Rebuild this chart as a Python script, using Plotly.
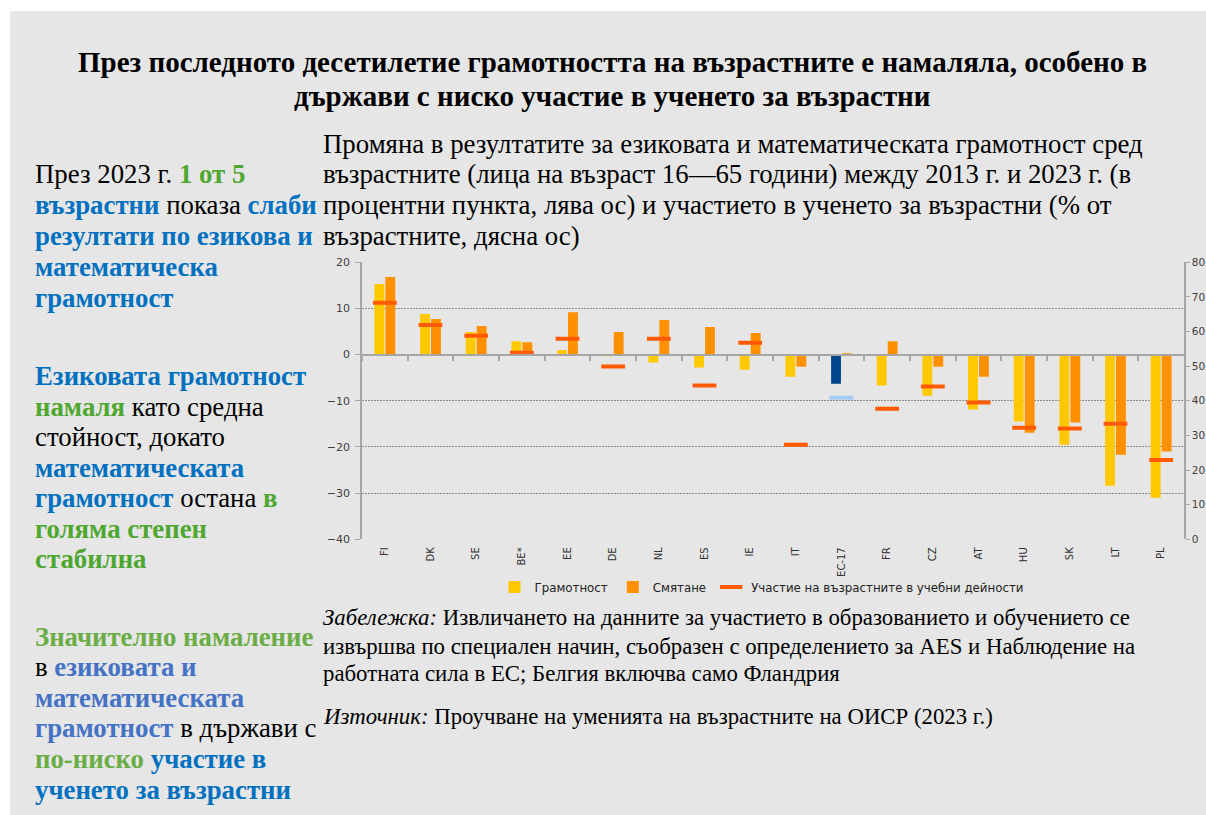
import plotly.graph_objects as go

W, H = 1206, 815

countries = ["FI", "DK", "SE", "BE*", "EE", "DE", "NL", "ES", "IE", "IT", "EC-17",
             "FR", "CZ", "AT", "HU", "SK", "LT", "PL"]
literacy = [15.3, 8.8, 4.9, 2.9, 1.0, -0.3, -1.7, -2.8, -3.3, -4.8, -6.3,
            -6.7, -8.9, -11.9, -14.5, -19.5, -28.4, -31.0]
numeracy = [16.8, 7.7, 6.2, 2.7, 9.2, 4.9, 7.5, 6.0, 4.7, -2.6, 0.1,
            2.9, -2.6, -4.8, -16.9, -14.7, -21.7, -21.0]
participation = [68.3, 61.9, 58.8, 53.9, 57.9, 49.9, 57.9, 44.4, 56.8, 27.3, 40.9,
                 37.7, 44.1, 39.5, 32.2, 32.0, 33.4, 22.9]

left_ticks = [20, 10, 0, -10, -20, -30, -40]
right_ticks = [0, 10, 20, 30, 40, 50, 60, 70, 80]

BG = "#e6e6e6"
YEL = "#ffc800"
ORA = "#ff9100"
RED = "#ff5a00"
DBLUE = "#00468c"
LBLUE = "#a6cdf5"

lit_colors = [DBLUE if c == "EC-17" else YEL for c in countries]
par_colors = [LBLUE if c == "EC-17" else RED for c in countries]


def px(x):
    return x / W


def py(y):
    return 1 - y / H


fig = go.Figure()
fig.add_trace(go.Bar(x=countries, y=literacy, name="Грамотност",
                     marker=dict(color=lit_colors, line=dict(width=0)),
                     xaxis="x", yaxis="y"))
fig.add_trace(go.Bar(x=countries, y=numeracy, name="Смятане",
                     marker=dict(color=ORA, line=dict(width=0)),
                     xaxis="x", yaxis="y"))
fig.add_trace(go.Scatter(x=countries, y=participation, mode="markers",
                         name="Участие на възрастните в учебни дейности",
                         marker=dict(symbol="line-ew", size=17,
                                     line=dict(width=4, color=par_colors)),
                         xaxis="x", yaxis="y2"))
# invisible trace to drive the zero-line category axis
fig.add_trace(go.Scatter(x=countries, y=[0] * len(countries), mode="markers",
                         marker=dict(opacity=0), showlegend=False,
                         hoverinfo="skip", xaxis="x2", yaxis="y"))

x0, x1 = px(362), px(1184)
y0, y1 = py(539.3), py(262.3)
zero_pos = py(354.6)

GRID = "#8c8c8c"
AX = "#a6a6a6"
TICKF = dict(family="DejaVu Sans", size=11, color="#404040")
RTICKF = dict(family="DejaVu Sans", size=10.5, color="#404040")
XTICKF = dict(family="DejaVu Sans", size=10, color="#303030")

fig.update_layout(
    template="none",
    width=W, height=H, autosize=False,
    margin=dict(l=0, r=0, t=0, b=0, pad=0, autoexpand=False),
    paper_bgcolor="white", plot_bgcolor=BG,
    barmode="group", bargap=0.52, bargroupgap=0.1,
    showlegend=True,
    legend=dict(orientation="h", x=px(762), y=py(587), xanchor="center",
                yanchor="middle", bgcolor="rgba(0,0,0,0)",
                font=dict(family="DejaVu Sans", size=11.8, color="#222"),
                itemwidth=30, tracegroupgap=0),
    xaxis=dict(domain=[x0, x1], anchor="y", type="category",
               categoryorder="array", categoryarray=countries,
               range=[-0.5, len(countries) - 0.5], automargin=False,
               tickangle=-90, tickfont=XTICKF, showline=False, showgrid=False,
               zeroline=False, ticks="", ticklen=0, ticklabelstandoff=5),
    xaxis2=dict(domain=[x0, x1], overlaying="x", anchor="free", position=zero_pos,
                type="category", categoryorder="array", categoryarray=countries,
                range=[-0.5, len(countries) - 0.5], automargin=False,
                showticklabels=False, showline=True, linecolor=AX, linewidth=2,
                ticks="outside", tickson="boundaries", ticklen=5, tickcolor=AX,
                tickwidth=1.5, showgrid=False, zeroline=False),
    yaxis=dict(domain=[y0, y1], range=[-40, 20], tickvals=left_ticks,
               automargin=False,
               tickfont=TICKF, showgrid=True, gridcolor=GRID, griddash="2px,1px",
               gridwidth=1, zeroline=False, showline=True, linecolor=AX,
               linewidth=1.5, ticks="outside", ticklen=5, tickcolor=AX,
               ticklabelstandoff=3),
    yaxis2=dict(domain=[y0, y1], range=[0, 80], tickvals=right_ticks,
                overlaying="y", side="right", anchor="x", automargin=False,
                tickfont=RTICKF, showgrid=False, zeroline=False, showline=True,
                linecolor=AX, linewidth=1.5, ticks="outside", ticklen=4,
                tickcolor=AX, ticklabelstandoff=0),
)

# gray panel
fig.add_shape(type="rect", xref="paper", yref="paper", x0=px(10), x1=1.0,
              y0=0, y1=py(11), fillcolor=BG, line=dict(width=0), layer="below")

SERIF = "Liberation Serif"
BLUE = "#0070c0"
GREEN = "#4ea72e"
BLUE2 = "#4472c4"
GREEN2 = "#6aad45"


def s(text, color="#000000", bold=False, italic=False):
    t = text
    if bold:
        t = "<b>" + t + "</b>"
    if italic:
        t = "<i>" + t + "</i>"
    return '<span style="color:%s">%s</span>' % (color, t)


def line(xp, yp, html, size, anchor="left"):
    fig.add_annotation(x=px(xp), y=py(yp), xref="paper", yref="paper",
                       text=html, showarrow=False, xanchor=anchor,
                       yanchor="middle", align=anchor,
                       font=dict(family=SERIF, size=size, color="#000"))


# title
title_lines = ["През последното десетилетие грамотността на възрастните е намаляла, особено в",
               "държави с ниско участие в ученето за възрастни"]
for tl, yy in zip(title_lines, [62, 96]):
    line(612, yy, "<b>" + tl + "</b>", 29, anchor="center")

# subtitle
sub_lines = ["Промяна в резултатите за езиковата и математическата грамотност сред",
             "възрастните (лица на възраст 16—65 години) между 2013 г. и 2023 г. (в",
             "процентни пункта, лява ос) и участието в ученето за възрастни (% от",
             "възрастните, дясна ос)"]
for tl, yy in zip(sub_lines, [144, 174, 205, 236]):
    line(321, yy, tl, 26.8)

LS = 26.8
block1 = [
    s("През 2023 г. ") + s("1 от 5", GREEN, True),
    s("възрастни", BLUE, True) + s(" показа ") + s("слаби", BLUE, True),
    s("резултати по езикова и", BLUE, True),
    s("математическа", BLUE, True),
    s("грамотност", BLUE, True),
]
for tl, yy in zip(block1, [174, 205, 236, 267, 298]):
    line(33, yy, tl, LS)

block2 = [
    s("Езиковата грамотност", BLUE, True),
    s("намаля", GREEN, True) + s(" като средна"),
    s("стойност, докато"),
    s("математическата", BLUE, True),
    s("грамотност", BLUE, True) + s(" остана ") + s("в", GREEN, True),
    s("голяма степен", GREEN, True),
    s("стабилна", GREEN, True),
]
for tl, yy in zip(block2, [376, 407, 437, 468, 498, 529, 559]):
    line(33, yy, tl, LS)

block3 = [
    s("Значително намаление", GREEN2, True),
    s("в ") + s("езиковата и", BLUE2, True),
    s("математическата", BLUE2, True),
    s("грамотност", BLUE2, True) + s(" в държави с"),
    s("по-ниско", GREEN2, True) + s(" ") + s("участие в", BLUE, True),
    s("ученето за възрастни", BLUE, True),
]
for tl, yy in zip(block3, [637, 667, 698, 728, 759, 790]):
    line(33, yy, tl, LS)

notes = [
    "<i>Забележка:</i> Извличането на данните за участието в образованието и обучението се",
    "извършва по специален начин, съобразен с определението за AES и Наблюдение на",
    "работната сила в ЕС; Белгия включва само Фландрия",
    "<i>Източник:</i> Проучване на уменията на възрастните на ОИСР (2023 г.)",
]
for tl, yy in zip(notes, [617, 646, 673, 716]):
    line(321, yy, tl, 22.8)

fig.write_html("out.html", config={"displayModeBar": False},
               post_script="document.body.style.margin='0';document.body.style.padding='0';")
